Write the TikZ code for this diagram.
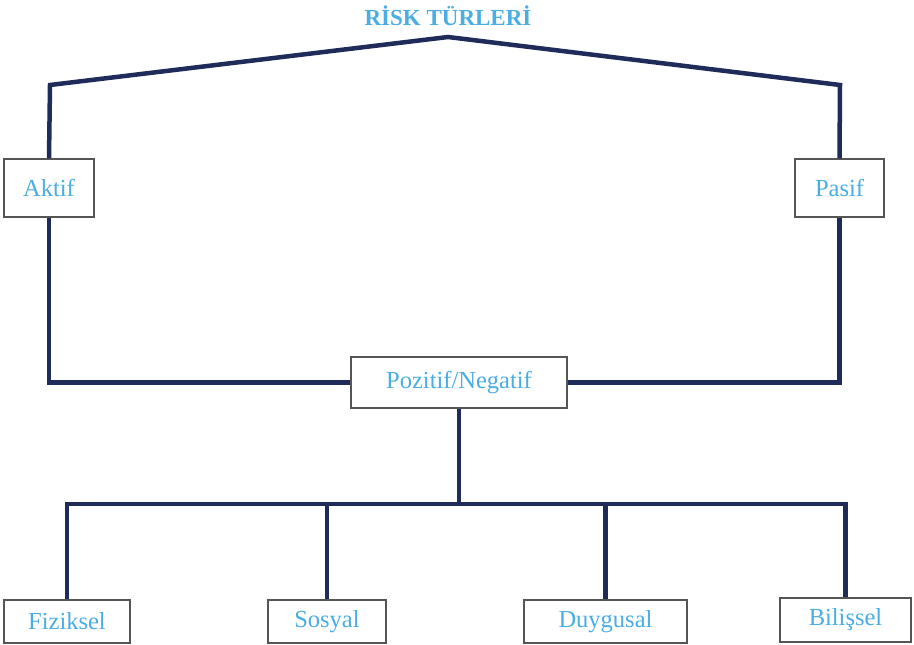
\documentclass[tikz,border=0pt]{standalone}
\usepackage{fontspec}
\setmainfont{Liberation Serif}
\usepackage{xcolor}
\usetikzlibrary{positioning}

\definecolor{hatlacivert}{RGB}{31,44,90}
\definecolor{yazimavi}{RGB}{74,173,227}
\definecolor{kutugri}{RGB}{85,85,85}

\begin{document}
\begin{tikzpicture}[x=1pt, y=-1pt,
  kutu/.style={draw=kutugri, line width=1.2pt, fill=white, inner sep=0pt,
    text=yazimavi, font=\fontsize{24.5}{28}\selectfont},
  hat/.style={draw=hatlacivert, line width=4.5pt, line join=miter}]

\useasboundingbox (0,0) rectangle (914,645);

\node[text=yazimavi, font=\bfseries\fontsize{23}{27}\selectfont] (baslik) at (448,16) {RİSK TÜRLERİ};

\coordinate (tepe) at (448,37);
\coordinate (solkose) at (50,85);
\coordinate (sagkose) at (840,85);
\coordinate (dal) at (459,504);

\node[kutu, minimum width=90, minimum height=58] (aktif) at (49,188) {Aktif};
\node[kutu, minimum width=89, minimum height=58] (pasif) at (839.5,188) {Pasif};
\node[kutu, minimum width=216, minimum height=51] (pozitif) at (459,382.5) {Pozitif/Negatif};

\node[kutu, minimum width=126, minimum height=43] (fiziksel) at (67,621.5) {Fiziksel};
\node[kutu, minimum width=118, minimum height=43] (sosyal) at (327,621.5) {Sosyal};
\node[kutu, minimum width=163, minimum height=43] (duygusal) at (605.5,621.5) {Duygusal};
\node[kutu, minimum width=131, minimum height=44] (bilissel) at (845.5,620) {Bilişsel};

\draw[hat] (aktif.north) -- (solkose) -- (tepe) -- (sagkose) -- (pasif.north);
\draw[hat] (aktif.south) |- (pozitif.west);
\draw[hat] (pasif.south) |- (pozitif.east);
\draw[hat] (pozitif.south) -- (dal);
\draw[hat] (dal) -| (fiziksel.north);
\draw[hat] (dal) -| (bilissel.north);
\draw[hat] (dal) -| (sosyal.north);
\draw[hat] (dal) -| (duygusal.north);

\end{tikzpicture}
\end{document}
